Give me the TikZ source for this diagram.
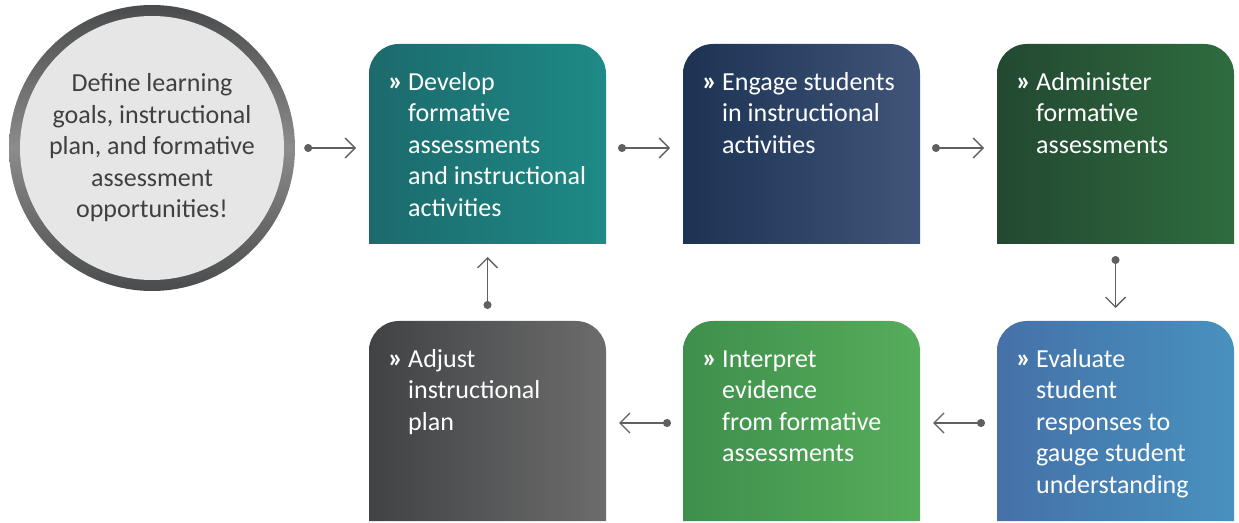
\documentclass[tikz,border=0pt]{standalone}
\usepackage{fontspec}
\setmainfont{Carlito}
\usetikzlibrary{positioning, arrows.meta, backgrounds}
\definecolor{ringdark}{HTML}{4A4B4C}
\definecolor{ringlight}{HTML}{8C8C8C}
\definecolor{circlefill}{HTML}{E6E6E6}
\definecolor{circletext}{HTML}{404040}
\definecolor{arrowgray}{HTML}{606060}
\definecolor{tealleft}{HTML}{1C6A6C}
\definecolor{tealright}{HTML}{1E8A86}
\definecolor{navyleft}{HTML}{1C3354}
\definecolor{navyright}{HTML}{405579}
\definecolor{forestleft}{HTML}{234832}
\definecolor{forestright}{HTML}{2E6C3E}
\definecolor{blueleft}{HTML}{4571A8}
\definecolor{blueright}{HTML}{4891BF}
\definecolor{leafleft}{HTML}{3F8F4C}
\definecolor{leafright}{HTML}{56AD5B}
\definecolor{slateleft}{HTML}{404244}
\definecolor{slateright}{HTML}{6C6C6C}
\newcommand{\steplines}[1]{\makebox[20pt][l]{\fontsize{28}{31.5}\selectfont\bfseries »}\begin{tabular}[t]{@{}l@{}}#1\end{tabular}}

\begin{document}
\begin{tikzpicture}[
		box/.style = {minimum width = 237pt, minimum height = 200pt, inner sep = 0pt, outer sep = 0pt},
		boxtext/.style = {text = white, font = \fontsize{26}{31.5}\selectfont, inner sep = 0pt},
		flow/.style = {draw = arrowgray, line width = 1.4pt, {Circle[length=8pt]}-{Straight Barb[length=10pt, width=20pt]}, shorten <= 12pt, shorten >= 13pt}
	]
		\useasboundingbox (0pt,0pt) rectangle (1239pt,522pt);
		\node[circle, minimum size = 264pt, inner sep = 0pt, fill = circlefill, text = circletext, align = center, font = \fontsize{26}{31.5}\selectfont] (define) at (152pt,374pt) {Define learning\\goals, instructional\\plan, and formative\\assessment\\opportunities!};
		\node[box] (develop) at (487.5pt,378pt) {};
		\node[box, right = 77pt of develop] (engage) {};
		\node[box, right = 77pt of engage] (administer) {};
		\node[box, below = 77pt of administer] (evaluate) {};
		\node[box, left = 77pt of evaluate] (interpret) {};
		\node[box, left = 77pt of interpret] (adjust) {};
		\begin{scope}[on background layer]
			\shade[top color = ringdark, bottom color = ringdark, middle color = ringlight] (define.center) circle (143pt);
			\foreach \b/\l/\r in {develop/tealleft/tealright, engage/navyleft/navyright, administer/forestleft/forestright, evaluate/blueleft/blueright, interpret/leafleft/leafright, adjust/slateleft/slateright}
				\shade[left color = \l, right color = \r] (\b.south west) [rounded corners = 30pt] -- (\b.north west) -- (\b.north east) [sharp corners] -- (\b.south east) -- cycle;
		\end{scope}
		% texts in the boxes
		\node[boxtext, below right = 24pt and 19pt of develop.north west] (developtext) {\steplines{Develop\\formative\\assessments\\and instructional\\activities}};
		\node[boxtext, below right = 24pt and 19pt of engage.north west] (engagetext) {\steplines{Engage students\\in instructional\\activities}};
		\node[boxtext, below right = 24pt and 19pt of administer.north west] (administertext) {\steplines{Administer\\formative\\assessments}};
		\node[boxtext, below right = 24pt and 19pt of evaluate.north west] (evaluatetext) {\steplines{Evaluate\\student\\responses to\\gauge student\\understanding}};
		\node[boxtext, below right = 24pt and 19pt of interpret.north west] (interprettext) {\steplines{Interpret\\evidence\\from formative\\assessments}};
		\node[boxtext, below right = 24pt and 19pt of adjust.north west] (adjusttext) {\steplines{Adjust\\instructional\\plan}};
		% connectors
		\draw[flow, shorten <= 20pt] (define.east) -- (define.east -| develop.west);
		\draw[flow] ([yshift=-4pt]develop.east) -- ([yshift=-4pt]engage.west);
		\draw[flow] ([yshift=-4pt]engage.east) -- ([yshift=-4pt]administer.west);
		\draw[flow] (administer.south) -- (evaluate.north);
		\draw[flow] ([yshift=-2pt]evaluate.west) -- ([yshift=-2pt]interpret.east);
		\draw[flow] ([yshift=-2pt]interpret.west) -- ([yshift=-2pt]adjust.east);
		\draw[flow] (adjust.north) -- (develop.south);
	\end{tikzpicture}
\end{document}
